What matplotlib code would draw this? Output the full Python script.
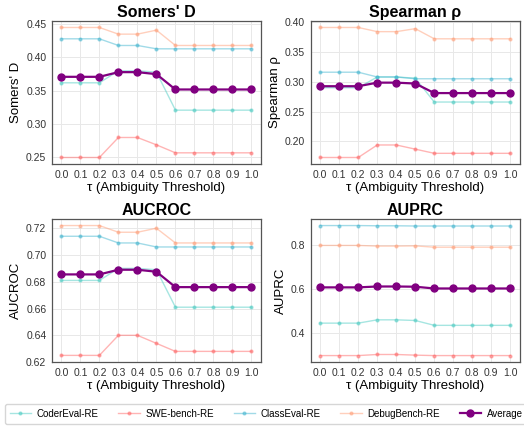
import numpy as np
import matplotlib.pyplot as plt

plt.rcParams['font.family'] = ['Liberation Sans', 'DejaVu Sans']

# thresholds
taus = [0.0, 0.1, 0.2, 0.3, 0.4, 0.5, 0.6, 0.7, 0.8, 0.9, 1.0]
tau_labels = ['0.0', '0.1', '0.2', '0.3', '0.4', '0.5', '0.6', '0.7', '0.8', '0.9', '1.0']

datasets = ['CoderEval-RE', 'SWE-bench-RE', 'ClassEval-RE', 'DebugBench-RE']
colors = ['#4ECDC4', '#FF6B6B', '#45B7D1', '#FFA07A']

# Somers' D
somers_codereval = [0.362, 0.362, 0.362, 0.380, 0.380, 0.378, 0.321, 0.321, 0.321, 0.321, 0.321]
somers_swe = [0.250, 0.250, 0.250, 0.280, 0.280, 0.269, 0.257, 0.257, 0.257, 0.257, 0.257]
somers_classeval = [0.428, 0.428, 0.428, 0.418, 0.418, 0.413, 0.413, 0.413, 0.413, 0.413, 0.413]
somers_debug = [0.445, 0.445, 0.445, 0.435, 0.435, 0.441, 0.418, 0.418, 0.418, 0.418, 0.418]
somers_avg = [0.371, 0.371, 0.371, 0.378, 0.378, 0.375, 0.352, 0.352, 0.352, 0.352, 0.352]

# Spearman rho
spear_codereval = [0.290, 0.290, 0.290, 0.308, 0.308, 0.306, 0.266, 0.266, 0.266, 0.266, 0.266]
spear_swe = [0.173, 0.173, 0.173, 0.194, 0.194, 0.187, 0.180, 0.180, 0.180, 0.180, 0.180]
spear_classeval = [0.316, 0.316, 0.316, 0.308, 0.308, 0.305, 0.305, 0.305, 0.305, 0.305, 0.305]
spear_debug = [0.391, 0.391, 0.391, 0.384, 0.384, 0.389, 0.372, 0.372, 0.372, 0.372, 0.372]
spear_avg = [0.2925, 0.2925, 0.2925, 0.2985, 0.2985, 0.297, 0.281, 0.281, 0.281, 0.281, 0.281]

# AUCROC
roc_codereval = [0.681, 0.681, 0.681, 0.690, 0.690, 0.689, 0.661, 0.661, 0.661, 0.661, 0.661]
roc_swe = [0.625, 0.625, 0.625, 0.640, 0.640, 0.634, 0.628, 0.628, 0.628, 0.628, 0.628]
roc_classeval = [0.714, 0.714, 0.714, 0.709, 0.709, 0.706, 0.706, 0.706, 0.706, 0.706, 0.706]
roc_debug = [0.722, 0.722, 0.722, 0.717, 0.717, 0.720, 0.709, 0.709, 0.709, 0.709, 0.709]
roc_avg = [0.6855, 0.6855, 0.6855, 0.689, 0.689, 0.6875, 0.676, 0.676, 0.676, 0.676, 0.676]

# AUPRC
prc_codereval = [0.445, 0.445, 0.445, 0.460, 0.460, 0.457, 0.435, 0.435, 0.435, 0.435, 0.435]
prc_swe = [0.298, 0.298, 0.298, 0.303, 0.303, 0.300, 0.298, 0.298, 0.298, 0.298, 0.298]
prc_classeval = [0.887, 0.887, 0.887, 0.886, 0.886, 0.885, 0.885, 0.885, 0.885, 0.885, 0.885]
prc_debug = [0.797, 0.797, 0.797, 0.794, 0.794, 0.795, 0.789, 0.789, 0.789, 0.789, 0.789]
prc_avg = [0.607, 0.607, 0.607, 0.611, 0.611, 0.610, 0.602, 0.602, 0.602, 0.602, 0.602]

panels = [
    ("Somers' D", [somers_codereval, somers_swe, somers_classeval, somers_debug], somers_avg),
    ("Spearman ρ", [spear_codereval, spear_swe, spear_classeval, spear_debug], spear_avg),
    ("AUCROC", [roc_codereval, roc_swe, roc_classeval, roc_debug], roc_avg),
    ("AUPRC", [prc_codereval, prc_swe, prc_classeval, prc_debug], prc_avg),
]

fig, axes = plt.subplots(2, 2, figsize=(5.24, 4.28), dpi=100)
fig.subplots_adjust(left=0.099, right=0.992, top=0.951, bottom=0.154, wspace=0.238, hspace=0.385)

for ax, (name, series, avg) in zip(axes.flat, panels):
    for vals, lab, col in zip(series, datasets, colors):
        ax.plot(taus, vals, marker='o', color=col, lw=1.0, markersize=2.0,
                alpha=0.5, label=lab)
    ax.plot(taus, avg, marker='o', color='purple', lw=1.6, markersize=5.0,
            label='Average')
    ax.set_title(name, fontsize=11.5, fontweight='bold', pad=3)
    ax.set_ylabel(name, fontsize=9.5, labelpad=3)
    ax.set_xlabel('τ (Ambiguity Threshold)', fontsize=9.5, labelpad=2)
    ax.set_xticks(taus)
    ax.set_xticklabels(tau_labels)
    ax.tick_params(labelsize=7.5, length=0, pad=4, labelcolor='#333333')
    ax.grid(True, color='#e8e8e8', lw=0.7)
    ax.set_axisbelow(True)
    for s in ax.spines.values():
        s.set_color('#555555')
        s.set_linewidth(0.9)

axes[1, 0].set_yticks([0.62, 0.64, 0.66, 0.68, 0.70, 0.72])
axes[1, 1].set_yticks([0.4, 0.6, 0.8])
axes[0, 0].yaxis.set_major_formatter(plt.FormatStrFormatter('%.2f'))
axes[0, 1].yaxis.set_major_formatter(plt.FormatStrFormatter('%.2f'))
axes[1, 0].yaxis.set_major_formatter(plt.FormatStrFormatter('%.2f'))

handles, labels = axes[0, 0].get_legend_handles_labels()
fig.legend(handles, labels, loc='center', ncol=5, fontsize=7,
           bbox_to_anchor=(0.508, 0.033), frameon=True, handlelength=2.2,
           columnspacing=2.0, handletextpad=0.6, fancybox=True,
           edgecolor='#cccccc', borderpad=0.5)

fig.savefig('out.png', dpi=100)
